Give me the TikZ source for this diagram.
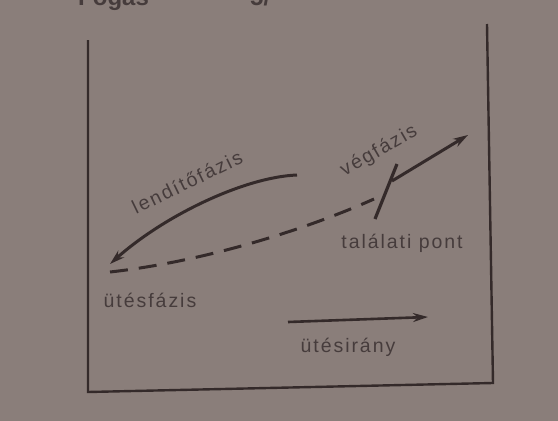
\documentclass[tikz,border=0pt]{standalone}
\usepackage{fontspec}
\setmainfont{Liberation Sans}
\newfontfamily\lblfont[LetterSpace=10]{Liberation Sans}
\usetikzlibrary{arrows.meta}
\definecolor{paper}{RGB}{138,126,122}
\definecolor{ink}{RGB}{52,42,42}
\definecolor{txt}{RGB}{70,60,60}
\tikzset{
  frame/.style={draw=ink,line width=2.4pt},
  stroke/.style={draw=ink,line width=3pt},
  tip/.style={-{Stealth[length=15pt,width=9pt]}},
  lbl/.style={text=txt,font=\lblfont\fontsize{19.5}{22}\selectfont,inner sep=0pt},
}
\begin{document}
\begin{tikzpicture}[x=1pt,y=-1pt]
\fill[paper] (0,0) rectangle (558,421);
\useasboundingbox (0,0) rectangle (558,421);
\clip (0,0) rectangle (558,421);
% header, cut off at top
\node[text=txt,font=\bfseries\fontsize{24}{26}\selectfont,anchor=base west,inner sep=0pt] (hd) at (78,5) {Fogás};
\node[text=txt,font=\bfseries\fontsize{24}{26}\selectfont,anchor=base west,inner sep=0pt] (hn) at (250,5) {5/};
% frame
\coordinate (tl) at (88,40);
\coordinate (bl) at (88,392);
\coordinate (br) at (493,383);
\coordinate (tr) at (487,24);
\draw[frame] (tl) -- (bl) -- (br) -- (tr);
% lendítőfázis
\coordinate (l1) at (297,175);
\coordinate (l2) at (110,264);
\draw[stroke,tip] (l1) .. controls (245,177) and (165,215) .. (l2);
% ütésfázis dashed
\coordinate (d1) at (110,272);
\coordinate (d2) at (374,199);
\draw[stroke,dash pattern=on 18pt off 11pt] (d1) .. controls (200,262) and (300,232) .. (d2);
% végfázis
\coordinate (v1) at (392,181);
\coordinate (v2) at (468,135);
\draw[stroke,tip] (v1) -- (v2);
% találati pont marker
\coordinate (t1) at (397,164);
\coordinate (t2) at (375,219);
\draw[stroke,line width=3.2pt] (t1) -- (t2);
% ütésirány
\coordinate (a1) at (288,322);
\coordinate (a2) at (428,317);
\draw[stroke,line width=2.6pt,tip] (a1) -- (a2);
% labels
\node[lbl,rotate=26] (ll) at (187,182) {lendítőfázis};
\node[lbl,rotate=30] (lv) at (379,151) {végfázis};
\node[lbl] (lt) at (402,243) {találati pont};
\node[lbl] (lu) at (150,300) {ütésfázis};
\node[lbl] (li) at (348,347) {ütésirány};
\end{tikzpicture}
\end{document}
